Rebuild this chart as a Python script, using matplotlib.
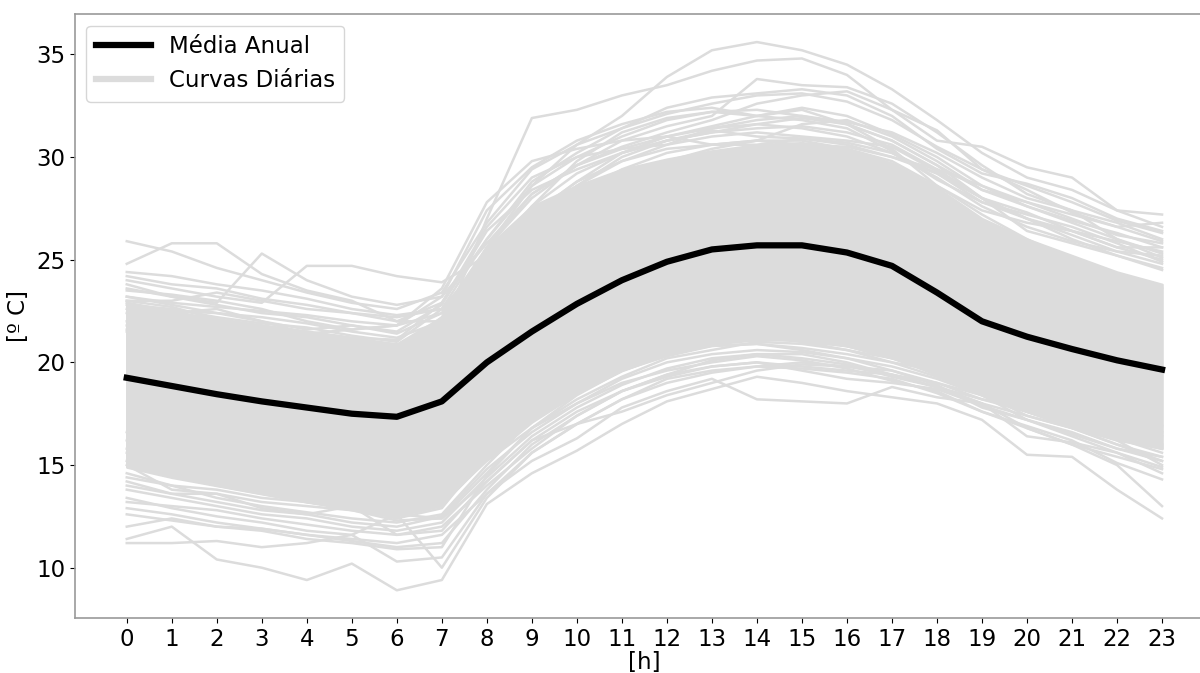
import numpy as np
import matplotlib
matplotlib.use("Agg")
import matplotlib.pyplot as plt
from matplotlib.lines import Line2D

hours = list(range(24))

# mean temperature for each hour of the day
media_anual = [19.25, 18.85, 18.45, 18.1, 17.8, 17.5, 17.35, 18.1, 20.0, 21.5, 22.85, 24.0,
               24.9, 25.5, 25.7, 25.7, 25.35, 24.7, 23.4, 22.0, 21.25, 20.65, 20.1, 19.65]

# range covered by the bulk of the daily curves
faixa_min = [14.9, 14.4, 14.0, 13.6, 13.2, 12.9, 12.6, 13.1, 15.3, 17.1, 18.5, 19.6,
             20.4, 20.9, 21.1, 21.1, 20.8, 20.3, 19.4, 18.4, 17.6, 16.9, 16.3, 15.8]
faixa_max = [22.9, 22.5, 22.1, 21.8, 21.5, 21.2, 20.9, 22.2, 25.6, 27.6, 28.6, 29.4,
             29.9, 30.3, 30.6, 30.7, 30.4, 29.7, 28.5, 27.0, 26.0, 25.2, 24.4, 23.8]

# individual days above the bulk
dias_quentes = [
    [25.9, 25.4, 24.6, 24.0, 23.4, 22.9, 22.6, 23.4, 26.8, 29.4, 30.6, 31.4, 32.1, 32.6, 33.0, 33.1, 32.7, 31.8, 30.5, 29.4, 28.6, 27.8, 26.9, 26.3],
    [24.8, 25.8, 25.8, 24.3, 23.5, 23.0, 22.0, 22.9, 26.0, 28.6, 30.0, 31.0, 31.8, 32.2, 32.0, 32.3, 31.6, 30.8, 29.6, 28.0, 27.3, 26.4, 25.9, 25.4],
    [23.8, 23.2, 22.9, 25.3, 24.0, 23.2, 22.8, 23.2, 25.8, 28.2, 29.6, 30.5, 31.2, 31.8, 32.6, 33.0, 33.2, 32.3, 31.3, 29.4, 28.4, 27.3, 26.6, 25.9],
    [24.0, 23.6, 23.2, 22.9, 24.7, 24.7, 24.2, 23.9, 25.2, 27.2, 28.8, 30.2, 31.0, 31.5, 32.0, 32.4, 32.0, 31.1, 30.0, 28.6, 27.6, 26.9, 26.3, 25.6],
    [22.6, 22.1, 21.7, 21.4, 21.1, 20.8, 20.6, 22.2, 25.6, 28.6, 30.6, 32.0, 33.9, 35.2, 35.6, 35.2, 34.5, 33.3, 31.8, 30.2, 29.0, 28.4, 27.4, 26.6],
    [21.5, 21.0, 20.6, 20.2, 19.8, 19.5, 19.2, 21.5, 27.0, 31.9, 32.3, 33.0, 33.5, 34.2, 34.7, 34.8, 34.0, 32.3, 30.8, 30.5, 29.5, 29.0, 27.4, 27.2],
    [23.2, 22.8, 22.4, 22.0, 21.6, 21.8, 21.4, 22.4, 25.6, 28.0, 29.6, 30.8, 31.5, 32.0, 33.8, 33.5, 33.4, 32.6, 31.2, 29.6, 28.2, 27.4, 26.0, 25.1],
    [22.8, 22.6, 22.2, 21.9, 21.7, 21.3, 21.0, 22.6, 26.0, 28.8, 30.2, 31.4, 32.4, 32.9, 33.1, 33.3, 33.0, 32.0, 30.4, 29.2, 28.7, 28.0, 27.0, 26.4],
    [23.5, 23.3, 23.0, 22.6, 22.0, 21.6, 21.8, 23.2, 27.4, 29.5, 30.8, 31.6, 32.2, 32.4, 32.0, 31.8, 31.4, 30.3, 28.9, 27.8, 27.0, 26.4, 25.6, 25.0],
    [22.9, 22.5, 22.4, 22.2, 21.9, 21.5, 21.2, 22.0, 24.8, 27.6, 29.2, 30.2, 30.8, 31.2, 31.6, 31.9, 31.6, 30.8, 29.6, 28.4, 27.8, 27.2, 26.6, 26.8],
    [24.4, 24.2, 23.8, 23.5, 23.1, 22.6, 22.3, 22.6, 24.6, 26.8, 28.6, 30.0, 30.8, 31.3, 31.0, 30.9, 30.6, 30.0, 29.2, 28.0, 27.0, 26.0, 25.2, 24.5],
    [23.0, 22.7, 22.1, 21.8, 21.5, 21.2, 21.1, 22.9, 26.6, 29.0, 30.0, 30.4, 30.6, 31.0, 31.2, 31.0, 30.8, 30.5, 29.3, 28.0, 26.4, 25.8, 25.2, 24.6],
    [21.6, 21.2, 20.8, 20.4, 20.0, 19.6, 19.4, 21.0, 24.2, 26.6, 28.2, 29.4, 30.2, 30.6, 30.8, 30.8, 30.4, 29.8, 28.6, 27.2, 26.0, 25.0, 24.2, 23.6],
    [23.6, 23.2, 22.8, 22.4, 22.2, 21.8, 21.5, 22.8, 26.4, 28.4, 29.4, 30.2, 30.8, 31.2, 31.4, 31.5, 31.2, 30.6, 29.4, 28.0, 27.0, 26.2, 25.4, 24.8],
    [22.0, 22.4, 22.6, 22.0, 21.4, 21.6, 21.8, 23.6, 27.8, 29.8, 30.4, 30.8, 31.0, 30.6, 30.8, 31.6, 31.8, 31.0, 29.8, 28.4, 27.6, 26.8, 26.0, 25.3],
    [23.2, 22.9, 22.7, 22.5, 22.3, 22.0, 21.8, 22.4, 25.0, 27.2, 28.6, 29.8, 30.6, 31.4, 31.8, 32.0, 31.7, 31.2, 30.2, 29.0, 28.0, 27.4, 26.8, 26.0],
    [21.8, 21.4, 21.0, 20.8, 20.4, 20.2, 20.0, 21.8, 25.6, 28.2, 29.6, 30.4, 31.0, 31.4, 31.6, 31.4, 31.0, 30.2, 29.0, 27.6, 26.6, 25.9, 25.4, 25.2],
    [24.2, 23.8, 23.6, 23.1, 22.8, 22.4, 22.0, 22.0, 24.0, 26.4, 27.8, 28.9, 29.8, 30.4, 30.8, 30.6, 30.5, 30.0, 29.4, 28.6, 27.8, 27.0, 26.2, 25.8],
    [22.4, 22.0, 21.8, 21.4, 21.2, 20.9, 20.6, 21.4, 24.6, 27.2, 28.8, 29.8, 30.4, 30.6, 30.6, 30.9, 30.7, 30.2, 29.2, 27.8, 27.2, 26.6, 25.8, 24.9],
    [23.0, 23.0, 23.4, 23.0, 22.6, 22.4, 22.2, 22.6, 25.2, 27.6, 29.8, 31.2, 31.9, 32.2, 32.3, 32.0, 31.6, 30.4, 28.6, 27.4, 26.8, 26.4, 25.6, 25.6],
]

# individual days below the bulk
dias_frios = [
    [11.4, 12.0, 10.4, 10.0, 9.4, 10.2, 8.9, 9.4, 13.1, 14.6, 15.7, 17.0, 18.1, 18.7, 19.3, 19.0, 18.6, 18.3, 18.0, 17.2, 15.5, 15.4, 13.8, 12.4],
    [11.2, 11.2, 11.3, 11.0, 11.2, 11.6, 10.3, 10.5, 13.6, 15.2, 16.3, 17.8, 18.6, 19.2, 18.2, 18.1, 18.0, 18.8, 18.3, 18.0, 16.8, 16.0, 15.0, 13.0],
    [12.9, 12.6, 12.2, 11.9, 11.6, 11.3, 11.0, 11.2, 13.8, 16.0, 17.4, 18.6, 19.4, 19.8, 20.0, 19.6, 19.2, 19.0, 18.7, 17.9, 17.2, 16.6, 15.8, 15.2],
    [13.8, 13.4, 13.0, 12.6, 12.4, 12.0, 11.8, 12.2, 14.4, 16.4, 17.8, 18.9, 19.7, 20.2, 20.4, 20.2, 19.9, 19.3, 18.8, 18.0, 16.4, 16.1, 15.6, 14.6],
    [14.6, 14.0, 13.4, 13.0, 12.7, 12.4, 12.2, 12.6, 15.0, 17.2, 18.6, 19.6, 20.3, 20.8, 20.9, 20.6, 20.2, 19.8, 19.2, 18.4, 17.6, 16.9, 16.3, 15.6],
    [15.0, 13.8, 13.6, 13.2, 13.0, 12.8, 12.5, 13.0, 15.8, 18.0, 19.4, 20.4, 21.0, 21.4, 21.4, 21.2, 20.8, 20.2, 19.4, 18.8, 17.9, 17.2, 16.6, 16.0],
    [14.2, 13.6, 13.6, 12.9, 12.6, 13.0, 11.6, 11.8, 14.2, 16.2, 17.0, 17.6, 18.4, 19.0, 19.6, 19.9, 19.8, 19.6, 19.0, 18.2, 17.8, 17.0, 16.4, 15.9],
    [16.2, 15.6, 15.0, 14.6, 14.0, 13.4, 12.9, 13.2, 15.2, 16.8, 18.2, 19.3, 20.2, 20.6, 21.0, 20.9, 20.6, 20.2, 19.6, 18.8, 18.2, 17.4, 16.8, 16.6],
    [13.4, 12.9, 12.5, 12.2, 11.8, 11.6, 12.6, 10.0, 13.4, 15.6, 17.0, 18.2, 19.2, 19.6, 19.8, 20.0, 19.8, 19.4, 18.8, 18.2, 17.6, 16.8, 16.0, 15.4],
    [15.6, 15.0, 14.4, 14.2, 13.4, 12.9, 12.4, 12.9, 15.6, 17.8, 19.0, 20.1, 20.8, 21.2, 21.4, 21.0, 20.6, 20.0, 19.6, 18.9, 17.7, 17.0, 16.2, 15.0],
    [12.0, 12.4, 12.0, 11.8, 11.4, 11.2, 10.9, 11.0, 14.5, 16.8, 18.0, 19.0, 19.6, 20.0, 20.3, 20.1, 19.7, 19.1, 18.6, 17.6, 16.9, 16.2, 15.1, 14.3],
    [16.6, 16.0, 15.4, 15.0, 14.6, 14.2, 13.9, 14.6, 16.8, 18.6, 19.8, 20.8, 21.4, 21.9, 22.2, 22.0, 21.6, 21.0, 20.2, 19.4, 18.6, 18.0, 17.4, 16.9],
    [14.0, 13.6, 13.2, 12.8, 12.6, 12.2, 12.0, 12.5, 14.8, 16.6, 18.0, 19.2, 20.0, 20.4, 20.6, 20.5, 20.2, 19.6, 18.9, 17.8, 17.2, 16.5, 15.8, 15.4],
    [15.2, 14.6, 14.0, 13.6, 13.2, 12.8, 12.3, 12.4, 14.6, 16.8, 18.4, 19.6, 20.4, 20.8, 20.9, 20.7, 20.4, 20.0, 19.3, 18.5, 17.4, 16.8, 16.0, 15.2],
    [13.2, 13.0, 12.8, 12.4, 12.1, 11.8, 11.6, 12.0, 14.0, 15.8, 17.4, 18.6, 19.4, 20.1, 20.4, 20.4, 20.0, 19.4, 19.0, 18.4, 17.2, 16.4, 15.6, 14.9],
    [15.8, 15.2, 14.8, 14.4, 13.8, 13.2, 12.8, 13.3, 15.5, 17.5, 18.8, 19.8, 20.6, 21.0, 21.2, 21.0, 20.8, 20.2, 19.8, 19.0, 18.2, 17.6, 17.0, 16.4],
    [14.4, 14.0, 13.8, 13.4, 13.2, 12.9, 12.6, 12.4, 14.2, 16.2, 17.6, 18.6, 19.3, 19.8, 20.0, 19.8, 19.6, 19.4, 18.8, 18.0, 17.4, 16.8, 16.2, 15.8],
    [12.6, 12.3, 12.0, 11.9, 11.6, 11.4, 11.2, 11.6, 13.6, 15.6, 17.0, 18.2, 19.0, 19.5, 19.8, 19.7, 19.5, 19.2, 18.5, 17.6, 16.8, 16.0, 15.4, 14.8],
]

cinza = "#dcdcdc"
fs = 16.5

fig = plt.figure(figsize=(12, 6.73), dpi=100)
ax = fig.add_axes([0.0625, 0.0817, 0.949, 0.897])

ax.fill_between(hours, faixa_min, faixa_max, color=cinza, linewidth=1.8)
for dia in dias_quentes + dias_frios:
    ax.plot(hours, dia, color=cinza, linewidth=1.8)
ax.plot(hours, media_anual, color="black", linewidth=4.5)

ax.set_xlim(-1.15, 24.15)
ax.set_ylim(7.55, 36.95)
ax.set_xticks(hours)
ax.set_yticks([10, 15, 20, 25, 30, 35])
ax.tick_params(labelsize=fs)
ax.set_xlabel("[h]", fontsize=fs, labelpad=0)
ax.set_ylabel("[º C]", fontsize=fs)

for spine in ax.spines.values():
    spine.set_color("#999999")
    spine.set_linewidth(1.2)

handles = [Line2D([0], [0], color="black", linewidth=4.5),
           Line2D([0], [0], color=cinza, linewidth=4.5)]
ax.legend(handles, ["Média Anual", "Curvas Diárias"], loc="upper left",
          fontsize=fs, handlelength=2.4)

fig.savefig("out.png", dpi=100)
